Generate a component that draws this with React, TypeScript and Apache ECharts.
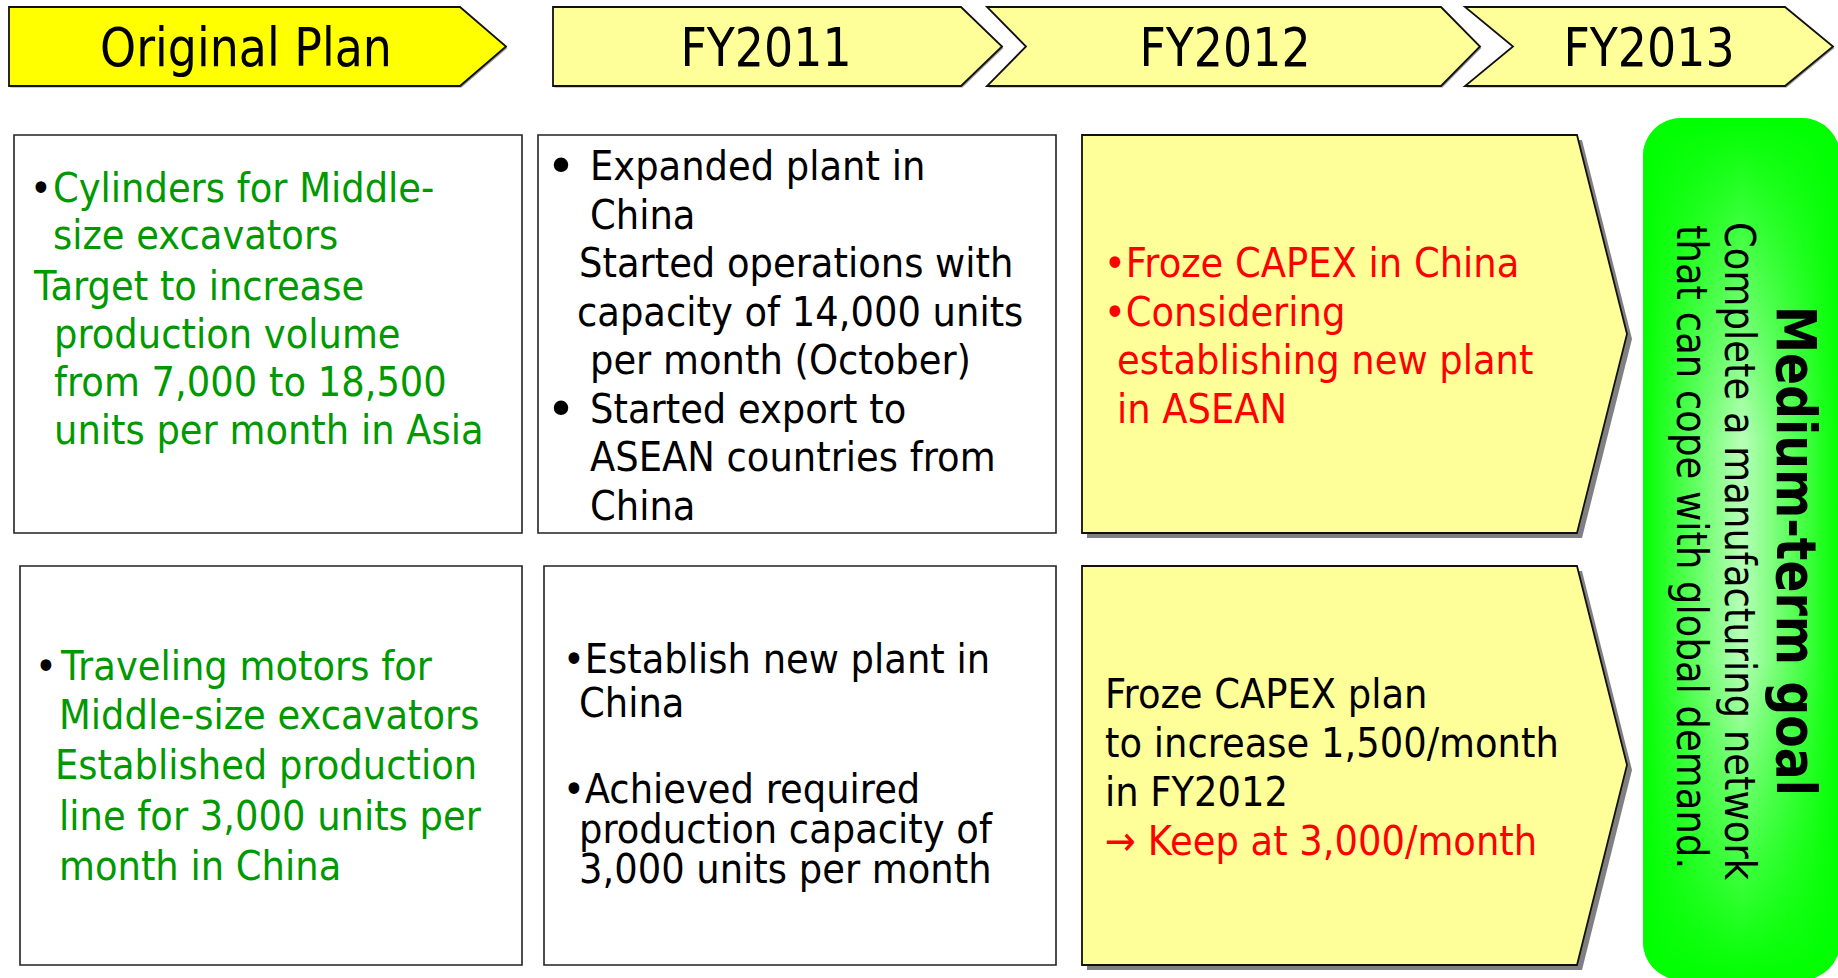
import React, { useEffect, useRef } from "react";
import * as echarts from "echarts";

// ---- content ----
const HEADER_LABELS = ["Original Plan", "FY2011", "FY2012", "FY2013"];
const PLAN_CYLINDERS = [
  "Cylinders for Middle-",
  "size excavators",
  "Target to increase",
  "production volume",
  "from 7,000 to 18,500",
  "units per month in Asia",
];
const FY2011_CYLINDERS = [
  "Expanded plant in",
  "China",
  "Started operations with",
  "capacity of 14,000 units",
  "per month (October)",
  "Started export to",
  "ASEAN countries from",
  "China",
];
const FY2012_CYLINDERS = ["•Froze CAPEX in China", "•Considering", "establishing new plant", "in ASEAN"];
const PLAN_MOTORS = [
  "Traveling motors for",
  "Middle-size excavators",
  "Established production",
  "line for 3,000 units per",
  "month in China",
];
const FY2011_MOTORS = [
  "•Establish new plant in",
  "China",
  "•Achieved required",
  "production capacity of",
  "3,000 units per month",
];
const FY2012_MOTORS = ["Froze CAPEX plan", "to increase 1,500/month", "in FY2012", "→ Keep at 3,000/month"];
const GOAL_TITLE = "Medium-term goal";
const GOAL_LINES = ["Complete a manufacturing network", "that can cope with global demand."];

// ---- styling / layout ----
const FONT = "'DejaVu Sans', Verdana, sans-serif";
const GREEN_TEXT = "#009900";
const RED_TEXT = "#FF0000";
const BLACK = "#000000";
const PALE_YELLOW = "#FFFF99";

function txt(text: string, x: number, y: number, o: any = {}) {
  const align = o.align || "left";
  return {
    type: "text",
    x,
    y,
    scaleX: o.sx ?? 0.9,
    scaleY: 1,
    rotation: o.rot ?? 0,
    silent: true,
    z: 10,
    style: {
      text,
      fill: o.color || BLACK,
      fontSize: o.size || 41,
      fontFamily: FONT,
      fontWeight: o.weight || "normal",
      align,
      verticalAlign: "middle",
      textAlign: align,
      textVerticalAlign: "middle",
    },
  };
}

function poly(points: number[][], fill: string, stroke: string | null, lw = 2, z = 1) {
  return {
    type: "polygon",
    z,
    silent: true,
    shape: { points },
    style: { fill, stroke: stroke || "none", lineWidth: stroke ? lw : 0 },
  };
}

function rectEl(x: number, y: number, w: number, h: number, fill: any, stroke: string | null, r: any = 0, z = 1) {
  return {
    type: "rect",
    z,
    silent: true,
    shape: { x, y, width: w, height: h, r },
    style: { fill, stroke: stroke || "none", lineWidth: stroke ? 1.6 : 0 },
  };
}

function block(lines: string[], xs: number[], ys: number[], colors: string[] | string, extra: any = {}) {
  return lines.map((t, i) =>
    txt(t, xs[i], ys[i], { color: Array.isArray(colors) ? colors[i] : colors, ...extra })
  );
}

function buildElements() {
  const els: any[] = [];

  // Header arrows
  const top = 7;
  const bot = 86;
  const mid = (top + bot) / 2;
  const headerShapes = [
    { pts: [[9, top], [460, top], [506, mid], [460, bot], [9, bot]], fill: "#FFFF00" },
    { pts: [[553, top], [961, top], [1002, mid], [961, bot], [553, bot]], fill: PALE_YELLOW },
    { pts: [[987, top], [1441, top], [1480, mid], [1441, bot], [987, bot], [1026, mid]], fill: PALE_YELLOW },
    { pts: [[1465, top], [1785, top], [1833, mid], [1785, bot], [1465, bot], [1513, mid]], fill: PALE_YELLOW },
  ];
  const headerCenters = [246, 766, 1225, 1649];
  headerShapes.forEach((h, i) => {
    els.push(poly(h.pts.map((p) => [p[0] + 1.5, p[1] + 1.5]), "#9a9a9a", null, 0, 1));
    els.push(poly(h.pts, h.fill, "#111111", 1.8, 2));
    els.push(txt(HEADER_LABELS[i], headerCenters[i], mid + 1, { size: 54, sx: 0.85, align: "center" }));
  });

  // Row 1 boxes
  els.push(rectEl(14, 135, 508, 398, "#FFFFFF", "#222222"));
  els.push(rectEl(538, 135, 518, 398, "#FFFFFF", "#222222"));
  const cPts = [[1082, 135], [1577, 135], [1627, 334], [1577, 533], [1082, 533]];
  els.push(poly(cPts.map((p) => [p[0] + 5, p[1] + 5]), "#808080", null, 0, 1));
  els.push(poly(cPts, PALE_YELLOW, "#111111", 1.8, 2));

  // Row 2 boxes
  els.push(rectEl(20, 566, 502, 399, "#FFFFFF", "#222222"));
  els.push(rectEl(544, 566, 512, 399, "#FFFFFF", "#222222"));
  const fPts = [[1082, 566], [1577, 566], [1627, 765], [1577, 965], [1082, 965]];
  els.push(poly(fPts.map((p) => [p[0] + 5, p[1] + 5]), "#808080", null, 0, 1));
  els.push(poly(fPts, PALE_YELLOW, "#111111", 1.8, 2));

  // Medium-term goal pill
  const px = 1643, py = 118, pw = 197, ph = 862;
  els.push(
    rectEl(px, py, pw, ph, {
      type: "linear", x: 0, y: 0, x2: 1, y2: 0,
      colorStops: [
        { offset: 0, color: "#00FF00" },
        { offset: 0.5, color: "#B8FFB8" },
        { offset: 1, color: "#00FF00" },
      ],
    }, null, 38, 1)
  );
  els.push(
    rectEl(px, py, pw, 320, {
      type: "linear", x: 0, y: 0, x2: 0, y2: 1,
      colorStops: [
        { offset: 0, color: "rgba(0,255,0,1)" },
        { offset: 1, color: "rgba(0,255,0,0)" },
      ],
    }, null, [38, 38, 0, 0], 2)
  );
  els.push(
    rectEl(px, py + ph - 320, pw, 320, {
      type: "linear", x: 0, y: 0, x2: 0, y2: 1,
      colorStops: [
        { offset: 0, color: "rgba(0,255,0,0)" },
        { offset: 1, color: "rgba(0,255,0,1)" },
      ],
    }, null, [0, 0, 38, 38], 2)
  );
  els.push(txt(GOAL_TITLE, 1796, 551, { size: 55, weight: "bold", sx: 0.86, rot: -Math.PI / 2, align: "center" }));
  els.push(txt(GOAL_LINES[0], 1740, 222, { size: 43, sx: 0.86, rot: -Math.PI / 2 }));
  els.push(txt(GOAL_LINES[1], 1692, 225, { size: 43, sx: 0.86, rot: -Math.PI / 2 }));

  // Box A: original plan, cylinders
  els.push(txt("•", 41, 188, { color: BLACK, align: "center" }));
  els.push(...block(PLAN_CYLINDERS, [53, 53, 34, 54, 54, 54], [188, 235, 286, 334, 382, 430], GREEN_TEXT));

  // Box B: FY2011 cylinders
  els.push(txt("•", 561, 166, { size: 50, align: "center", sx: 1 }));
  els.push(txt("•", 561, 408.5, { size: 50, align: "center", sx: 1 }));
  els.push(...block(
    FY2011_CYLINDERS,
    [590, 590, 579, 577, 590, 590, 590, 590],
    [166, 214.5, 263, 311.5, 360, 408.5, 457, 505.5],
    BLACK
  ));

  // Box C: FY2012 cylinders
  els.push(...block(FY2012_CYLINDERS, [1104, 1104, 1117, 1117], [263, 311.5, 360, 408.5], RED_TEXT));

  // Box D: original plan, motors
  els.push(txt("•", 46, 666, { color: BLACK, align: "center" }));
  els.push(...block(PLAN_MOTORS, [61, 59, 55, 59, 59], [666, 715, 765, 816, 866], GREEN_TEXT));

  // Box E: FY2011 motors
  els.push(...block(FY2011_MOTORS, [563, 579, 563, 579, 579], [659, 703, 789, 829, 869], BLACK));

  // Box F: FY2012 motors
  els.push(...block(FY2012_MOTORS, [1105, 1105, 1105, 1105], [694, 743, 792, 841], [BLACK, BLACK, BLACK, RED_TEXT]));

  return els;
}

export default function App() {
  const ref = useRef<HTMLDivElement>(null);
  useEffect(() => {
    if (!ref.current) return;
    const chart = echarts.init(ref.current, null, { renderer: "svg" });
    chart.setOption({
      animation: false,
      backgroundColor: "#FFFFFF",
      graphic: { elements: buildElements() },
    });
    return () => chart.dispose();
  }, []);
  return (
    <div
      ref={ref}
      style={{ position: "fixed", left: 0, top: 0, width: 1838, height: 978, background: "#FFFFFF" }}
    />
  );
}
